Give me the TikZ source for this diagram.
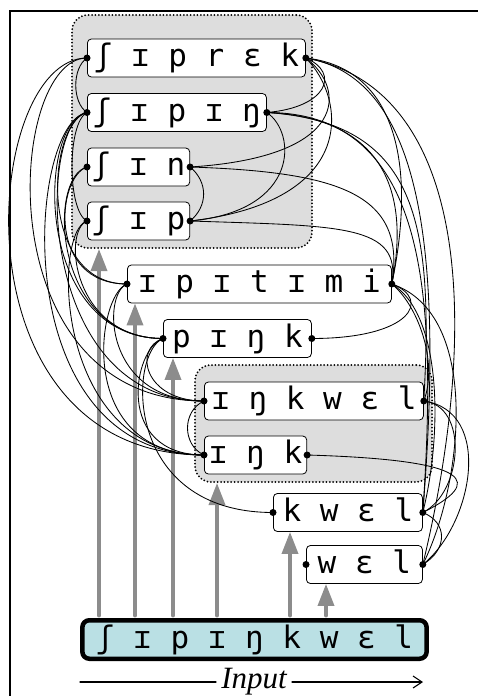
\documentclass[tikz,border=0pt]{standalone}
\usepackage{fontspec}
\newfontfamily\ipafont{DejaVu Sans Mono}
\newfontfamily\captionfont{Liberation Serif}
\usetikzlibrary{arrows.meta}
\definecolor{clustergray}{RGB}{221,221,221}
\definecolor{inputblue}{RGB}{186,224,228}
\definecolor{feedgray}{RGB}{140,140,140}
\tikzset{
  word/.style={draw, fill=white, rounded corners=4pt, line width=0.8pt, anchor=west,
    inner xsep=4.5pt, inner ysep=3.5pt, text height=24pt, text depth=7pt,
    font=\ipafont\fontsize{31}{36}\selectfont},
  inputbox/.style={draw, fill=inputblue, rounded corners=7pt, line width=4.5pt,
    inner xsep=13.5pt, inner ysep=3.75pt, text height=24pt, text depth=7pt,
    font=\ipafont\fontsize{31}{36}\selectfont},
  cluster/.style={draw, fill=clustergray, rounded corners=16pt, line width=2pt,
    line cap=round, dash pattern=on 0pt off 3.4pt},
  feed/.style={draw=feedgray, line width=3.5pt, shorten <=2.3pt,
    -{Triangle[width=16pt,length=22pt]}},
  link/.style={line width=0.85pt}
}
\begin{document}
\begin{tikzpicture}[x=1pt,y=-1pt,line cap=round]
\useasboundingbox (0,0) rectangle (478,696);

% groups of rival words
\node[cluster, minimum width=240pt, minimum height=233pt] (shgroup) at (192,131.5) {};
\node[cluster, minimum width=237pt, minimum height=117pt] (inkgroup) at (313.5,423.5) {};

% words
\node[word, minimum width=218pt] (shiprek) at (87,58) {ʃ ɪ p r ɛ k};
\node[word, minimum width=179pt] (shiping) at (87,112.5) {ʃ ɪ p ɪ ŋ};
\node[word, minimum width=101pt] (shin) at (87,167) {ʃ ɪ n};
\node[word, minimum width=101pt] (ship) at (87,221) {ʃ ɪ p};
\node[word, minimum width=264pt] (ipitimi) at (127,284) {ɪ p ɪ t ɪ m i};
\node[word, minimum width=148pt] (pink) at (163,338.5) {p ɪ ŋ k};
\node[word, minimum width=219pt] (inkwel) at (204,401) {ɪ ŋ k w ɛ l};
\node[word, minimum width=101pt] (ink) at (204,455) {ɪ ŋ k};
\node[word, minimum width=149pt] (kwel) at (273,512.5) {k w ɛ l};
\node[word, minimum width=116pt] (wel) at (306,564.5) {w ɛ l};

\node[inputbox] (input) at (254.5,639.5) {ʃ ɪ p ɪ ŋ k w ɛ l};

% input feeds
\foreach \x/\t in {99/shgroup,135/ipitimi,173/pink,217/inkgroup,290/kwel,326/wel}
  \draw[feed] (input.north -| \x,0) -- (\t.south -| \x,0);

% left ends
\draw[link] (shiprek.west) .. controls +(-105,0) and +(-255,0) .. (ink.west);
\draw[link] (shiprek.west) .. controls +(-80,0) and +(-220,0) .. (inkwel.west);
\draw[link] (shiprek.west) .. controls +(-15,10) and +(-15,-10) .. (shiping.west);
\draw[link] (shiping.west) .. controls +(-60,10) and +(-200,0) .. (ink.west);
\draw[link] (shiping.west) .. controls +(-50,10) and +(-170,0) .. (inkwel.west);
\draw[link] (shiping.west) .. controls +(-50,10) and +(-130,0) .. (pink.west);
\draw[link] (shiping.west) .. controls +(-40,10) and +(-90,0) .. (ipitimi.west);
\draw[link] (shiping.west) .. controls +(-20,10) and +(-20,-10) .. (ship.west);
\draw[link] (shin.west) .. controls +(-40,10) and +(-110,0) .. (pink.west);
\draw[link] (shin.west) .. controls +(-30,10) and +(-80,0) .. (ipitimi.west);
\draw[link] (ship.west) .. controls +(-25,10) and +(-90,0) .. (pink.west);
\draw[link] (ship.west) .. controls +(-35,10) and +(-150,0) .. (ink.west);
\draw[link] (ipitimi.west) .. controls +(-30,10) and +(-130,0) .. (ink.west);
\draw[link] (ipitimi.west) .. controls +(-25,10) and +(-100,0) .. (inkwel.west);
\draw[link] (pink.west) .. controls +(-30,10) and +(-90,0) .. (ink.west);
\draw[link] (pink.west) .. controls +(-30,10) and +(-60,0) .. (inkwel.west);
\draw[link] (pink.west) .. controls +(-35,15) and +(-150,0) .. (kwel.west);
\draw[link] (inkwel.west) .. controls +(-22,10) and +(-22,-10) .. (ink.west);

% right ends
\draw[link] (shiprek.east) .. controls +(35,15) and +(60,-5) .. (shiping.east);
\draw[link] (shiprek.east) .. controls +(40,30) and +(160,-10) .. (shin.east);
\draw[link] (shiprek.east) .. controls +(40,40) and +(170,-20) .. (ship.east);
\draw[link] (shiping.east) .. controls +(30,20) and +(110,-10) .. (ship.east);
\draw[link] (shin.east) .. controls +(18,15) and +(18,-15) .. (ship.east);
\draw[link] (shiprek.east) .. controls +(90,10) and +(25,-120) .. (ipitimi.east);
\draw[link] (shiping.east) .. controls +(110,5) and +(20,-100) .. (ipitimi.east);
\draw[link] (shin.east) .. controls +(150,5) and +(15,-90) .. (ipitimi.east);
\draw[link] (ship.east) .. controls +(150,5) and +(10,-60) .. (ipitimi.east);
\draw[link] (shiprek.east) .. controls +(120,20) and +(20,-250) .. (kwel.east);
\draw[link] (shiprek.east) .. controls +(160,30) and +(60,-250) .. (wel.east);
\draw[link] (shiping.east) .. controls +(150,10) and +(10,-180) .. (inkwel.east);
\draw[link] (shiping.east) .. controls +(160,0) and +(15,-220) .. (kwel.east);
\draw[link] (ipitimi.east) .. controls +(40,15) and +(100,0) .. (pink.east);
\draw[link] (ipitimi.east) .. controls +(25,20) and +(15,-40) .. (inkwel.east);
\draw[link] (ipitimi.east) .. controls +(50,30) and +(20,-80) .. (kwel.east);
\draw[link] (ipitimi.east) .. controls +(90,30) and +(40,-80) .. (wel.east);
\draw[link] (inkwel.east) .. controls +(45,5) and +(40,-20) .. (kwel.east);
\draw[link] (inkwel.east) .. controls +(70,10) and +(50,-40) .. (wel.east);
\draw[link] (ink.east) .. controls +(170,5) and +(60,-30) .. (kwel.east);
\draw[link] (kwel.east) .. controls +(25,10) and +(25,-15) .. (wel.east);

% end dots
\foreach \w in {shiprek,shiping,shin,ship,ipitimi,pink,inkwel,ink,kwel,wel}
  \fill (\w.west) circle (3.5) (\w.east) circle (3.5);

% input direction
\node[font=\captionfont\itshape\fontsize{31}{36}\selectfont, inner sep=5pt] (inputlabel) at (254,682) {Input};
\coordinate (inputstart) at (80,682);
\coordinate (inputend) at (423,682);
\draw[line width=1.1pt] (inputstart) -- (inputlabel);
\draw[line width=1.1pt, -{Straight Barb[length=9pt,width=12pt]}] (inputlabel) -- (inputend);

% frame
\draw[line width=2pt] (478,11) -- (10,11) -- (10,696);
\end{tikzpicture}
\end{document}
